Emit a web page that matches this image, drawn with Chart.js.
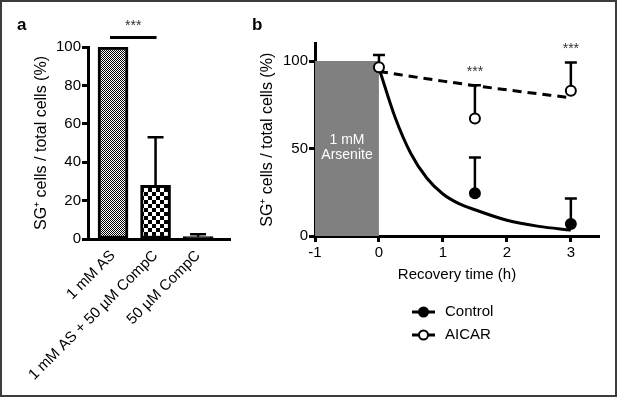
<!DOCTYPE html>
<html>
<head>
<meta charset="utf-8">
<script src="https://cdn.jsdelivr.net/npm/chart.js@4"></script>
<style>
  body { margin: 0; background: #fff; }
  #frame { position: absolute; left: 0; top: 0; width: 617px; height: 397px; box-sizing: border-box; border: 2px solid #3c3c3c; }
  canvas { position: absolute; top: 0; }
  #chartA { left: 0; }
  #chartB { left: 250px; }
</style>
</head>
<body>
<div id="frame"></div>
<canvas id="chartA" width="250" height="397"></canvas>
<canvas id="chartB" width="367" height="397"></canvas>
<script>
// panel a
const treatments = ['1 mM AS', '1 mM AS + 50 µM CompC', '50 µM CompC'];
const sgPercent = [100, 28, 1.2];
const sgError = [0, 25, 1.3];
const yTicksA = [0, 20, 40, 60, 80, 100];

// panel b
const controlTime = [1.5, 3];
const controlMean = [24.4, 6.9];
const controlErr = [20.5, 14.6];
const aicarTime = [0, 1.5, 3];
const aicarMean = [96.4, 67.2, 83];
const aicarErr = [7, 19, 16.2];
const controlFitX = [0, 0.25, 0.5, 0.75, 1, 1.25, 1.5, 2, 2.5, 3];
const controlFitY = [96, 68, 47, 33, 24, 18.5, 15, 9, 5.5, 3.4];
const aicarFitX = [0, 1, 2, 3];
const aicarFitY = [94, 88.5, 83.5, 79];
const arseniteX = [-1, 0];
const arseniteY = [100, 100];
const xTicksB = [-1, 0, 1, 2, 3];
const yTicksB = [0, 50, 100];
const sigTimes = [1.5, 3];

Chart.defaults.font.family = "'Liberation Sans', Arial, sans-serif";
Chart.defaults.color = '#000';
Chart.defaults.animation = false;
Chart.defaults.plugins.legend.display = false;
Chart.defaults.plugins.tooltip.enabled = false;

const canvasA = document.getElementById('chartA');
const ctxA = canvasA.getContext('2d');

function checker(cell) {
    const c = document.createElement('canvas');
    c.width = c.height = cell * 2;
    const g = c.getContext('2d');
    g.fillStyle = '#fff';
    g.fillRect(0, 0, cell * 2, cell * 2);
    g.fillStyle = '#000';
    g.fillRect(0, 0, cell, cell);
    g.fillRect(cell, cell, cell, cell);
    return ctxA.createPattern(c, 'repeat');
}

const panelA = {
    id: 'panelA',
    afterDatasetsDraw(chart) {
        const {ctx, scales: {x, y}} = chart;
        ctx.save();
        ctx.strokeStyle = '#000';
        ctx.lineWidth = 2.5;
        sgPercent.forEach((v, i) => {
            if (!sgError[i]) return;
            const px = x.getPixelForValue(i);
            const y0 = y.getPixelForValue(v);
            const y1 = y.getPixelForValue(v + sgError[i]);
            ctx.beginPath();
            ctx.moveTo(px, y0);
            ctx.lineTo(px, y1);
            ctx.moveTo(px - 8, y1);
            ctx.lineTo(px + 8, y1);
            ctx.stroke();
        });
        // significance bar between first two bars
        const sy = y.getPixelForValue(105);
        ctx.lineWidth = 3;
        ctx.beginPath();
        ctx.moveTo(x.getPixelForValue(0) - 3, sy);
        ctx.lineTo(x.getPixelForValue(1) + 1, sy);
        ctx.stroke();
        ctx.fillStyle = '#333';
        ctx.font = "14px 'Liberation Sans', Arial, sans-serif";
        ctx.textAlign = 'center';
        ctx.textBaseline = 'middle';
        ctx.fillText('***', (x.getPixelForValue(0) + x.getPixelForValue(1)) / 2 - 1, y.getPixelForValue(111));
        ctx.fillStyle = '#000';
        ctx.font = "bold 17px 'Liberation Sans', Arial, sans-serif";
        ctx.textAlign = 'left';
        ctx.fillText('a', 17, 25);
        ctx.restore();
    }
};

new Chart(canvasA, {
    type: 'bar',
    data: {
        datasets: [{
            data: sgPercent.map((v, i) => ({x: i, y: v})),
            backgroundColor: [checker(1), checker(4), '#000'],
            borderColor: '#000',
            borderWidth: 3,
            borderSkipped: false,
            barThickness: 30
        }]
    },
    options: {
        responsive: false,
        layout: {padding: {left: 28, top: 47, right: 20, bottom: 0}},
        scales: {
            x: {
                type: 'linear',
                offset: false,
                min: -0.588,
                max: 2.75,
                afterBuildTicks: s => { s.ticks = treatments.map((t, i) => ({value: i})); },
                afterFit: s => { s.height = 158; },
                grid: {display: false, offset: false},
                border: {color: '#000', width: 3},
                ticks: {
                    callback: v => treatments[v],
                    minRotation: 45,
                    maxRotation: 45,
                    autoSkip: false,
                    font: {size: 15},
                    padding: 0
                }
            },
            y: {
                min: 0,
                max: 100,
                afterBuildTicks: s => { s.ticks = yTicksA.map(v => ({value: v})); },
                afterFit: s => { s.width = 60; },
                grid: {drawOnChartArea: false, tickLength: 6, tickWidth: 3, tickColor: '#000'},
                border: {color: '#000', width: 3},
                ticks: {font: {size: 15}, padding: 1},
                title: {display: true, text: 'SG⁺ cells / total cells (%)', font: {size: 16}, padding: {top: 4, bottom: 0}}
            }
        }
    },
    plugins: [panelA]
});

const panelB = {
    id: 'panelB',
    afterDatasetsDraw(chart) {
        const {ctx, scales: {x, y}} = chart;
        ctx.save();
        ctx.strokeStyle = '#000';
        ctx.lineWidth = 2.5;
        const r = 5;
        const drawErr = (xs, means, errs) => {
            xs.forEach((t, i) => {
                const px = x.getPixelForValue(t);
                const y0 = y.getPixelForValue(means[i]) - r;
                const y1 = y.getPixelForValue(means[i] + errs[i]);
                ctx.beginPath();
                ctx.moveTo(px, y0);
                ctx.lineTo(px, y1);
                ctx.moveTo(px - 6, y1);
                ctx.lineTo(px + 6, y1);
                ctx.stroke();
            });
        };
        drawErr(controlTime, controlMean, controlErr);
        drawErr(aicarTime, aicarMean, aicarErr);

        ctx.textAlign = 'center';
        ctx.textBaseline = 'middle';
        ctx.fillStyle = '#333';
        ctx.font = "14px 'Liberation Sans', Arial, sans-serif";
        sigTimes.forEach(t => {
            const i = aicarTime.indexOf(t);
            ctx.fillText('***', x.getPixelForValue(t), y.getPixelForValue(aicarMean[i] + aicarErr[i]) - 13);
        });

        ctx.fillStyle = '#fff';
        ctx.font = "14px 'Liberation Sans', Arial, sans-serif";
        const cx = x.getPixelForValue(-0.5);
        const cy = y.getPixelForValue(50);
        ctx.fillText('1 mM', cx, cy - 8);
        ctx.fillText('Arsenite', cx, cy + 7);

        // legend
        const items = [
            {label: 'Control', fill: '#000', y: 312},
            {label: 'AICAR', fill: '#fff', y: 335}
        ];
        ctx.font = "15px 'Liberation Sans', Arial, sans-serif";
        ctx.textAlign = 'left';
        items.forEach(it => {
            ctx.strokeStyle = '#000';
            ctx.lineWidth = 3;
            ctx.beginPath();
            ctx.moveTo(162, it.y);
            ctx.lineTo(185, it.y);
            ctx.stroke();
            ctx.lineWidth = 2;
            ctx.fillStyle = it.fill;
            ctx.beginPath();
            ctx.arc(173.5, it.y, 4.5, 0, Math.PI * 2);
            ctx.fill();
            ctx.stroke();
            ctx.fillStyle = '#000';
            ctx.fillText(it.label, 195, it.y);
        });

        ctx.font = "bold 17px 'Liberation Sans', Arial, sans-serif";
        ctx.fillText('b', 2, 25);
        ctx.restore();
    }
};

new Chart(document.getElementById('chartB'), {
    type: 'scatter',
    data: {
        datasets: [
            {
                label: 'AICAR',
                data: aicarTime.map((t, i) => ({x: t, y: aicarMean[i]})),
                pointRadius: 5,
                pointBorderWidth: 2,
                pointBackgroundColor: '#fff',
                pointBorderColor: '#000',
                order: 0
            },
            {
                label: 'Control',
                data: controlTime.map((t, i) => ({x: t, y: controlMean[i]})),
                pointRadius: 5,
                pointBorderWidth: 2,
                pointBackgroundColor: '#000',
                pointBorderColor: '#000',
                order: 0
            },
            {
                label: 'AICAR fit',
                data: aicarFitX.map((t, i) => ({x: t, y: aicarFitY[i]})),
                showLine: true,
                pointRadius: 0,
                borderColor: '#000',
                borderWidth: 3,
                borderDash: [9, 6],
                cubicInterpolationMode: 'monotone',
                order: 1
            },
            {
                label: 'Control fit',
                data: controlFitX.map((t, i) => ({x: t, y: controlFitY[i]})),
                showLine: true,
                pointRadius: 0,
                borderColor: '#000',
                borderWidth: 3,
                cubicInterpolationMode: 'monotone',
                order: 1
            },
            {
                label: 'Arsenite',
                data: arseniteX.map((t, i) => ({x: t, y: arseniteY[i]})),
                showLine: true,
                pointRadius: 0,
                borderWidth: 0,
                borderColor: 'rgba(0,0,0,0)',
                backgroundColor: '#808080',
                fill: 'origin',
                order: 2
            }
        ]
    },
    options: {
        responsive: false,
        layout: {padding: {left: 4, top: 43.5, right: 18, bottom: 109}},
        scales: {
            x: {
                type: 'linear',
                min: -1,
                max: 3.44,
                afterBuildTicks: s => { s.ticks = xTicksB.map(v => ({value: v})); },
                afterFit: s => { s.height = 52; },
                grid: {drawOnChartArea: false, tickLength: 6, tickWidth: 3, tickColor: '#000'},
                border: {color: '#000', width: 3},
                ticks: {font: {size: 15}, padding: 2},
                title: {display: true, text: 'Recovery time (h)', font: {size: 15}, padding: {top: 0, bottom: 4}}
            },
            y: {
                min: 0,
                max: 110,
                afterBuildTicks: s => { s.ticks = yTicksB.map(v => ({value: v})); },
                afterFit: s => { s.width = 61; },
                grid: {drawOnChartArea: false, tickLength: 6, tickWidth: 3, tickColor: '#000'},
                border: {color: '#000', width: 3},
                ticks: {font: {size: 15}, padding: 1},
                title: {display: true, text: 'SG⁺ cells / total cells (%)', font: {size: 16}, padding: {top: 4, bottom: 0}}
            }
        }
    },
    plugins: [panelB]
});
</script>
</body>
</html>
